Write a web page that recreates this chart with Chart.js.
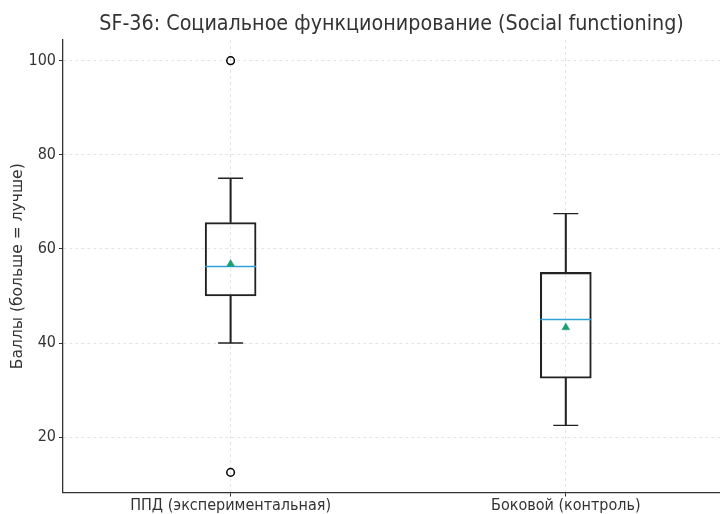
<!DOCTYPE html>
<html><head><meta charset="utf-8">
<script src="https://cdn.jsdelivr.net/npm/chart.js@4/dist/chart.umd.min.js"></script>
<style>html,body{margin:0;padding:0;background:#fff}#wrap{width:720px;height:514px}</style>
</head><body><div id="wrap"><canvas id="c" width="720" height="514"></canvas></div>
<script>
const categories = ["ППД (экспериментальная)", "Боковой (контроль)"];
const positions = [1, 2];
const q1 = [50, 32.5];
const q3 = [65.6, 55];
const medians = [56.25, 45];
const means = [56.8, 43.3];
const whiskerLow = [40, 22.5];
const whiskerHigh = [75, 67.5];
const outliers = [[100, 12.5], []];
const yTicks = [20, 40, 60, 80, 100];

const ink = '#222';
const boxes = positions.map((p, i) => ({x: p, y: [q1[i], q3[i]]}));
const upper = positions.map((p, i) => ({x: p, y: [q3[i], whiskerHigh[i]]}));
const lower = positions.map((p, i) => ({x: p, y: [whiskerLow[i], q1[i]]}));
const caps = positions.flatMap((p, i) => [{x: p, y: whiskerLow[i]}, {x: p, y: whiskerHigh[i]}]);
const med = positions.map((p, i) => ({x: p, y: medians[i]}));
const mn = positions.map((p, i) => ({x: p, y: means[i]}));
const outs = positions.flatMap((p, i) => outliers[i].map(v => ({x: p, y: v})));

new Chart(document.getElementById('c'), {
  type: 'bar',
  data: {
    datasets: [
      {type: 'bar', data: upper, grouped: false, barThickness: 1.4, backgroundColor: ink, borderWidth: 0, order: 5},
      {type: 'bar', data: lower, grouped: false, barThickness: 1.4, backgroundColor: ink, borderWidth: 0, order: 5},
      {type: 'bar', data: boxes, grouped: false, barThickness: 51, backgroundColor: 'rgba(255,255,255,0)', borderColor: ink, borderWidth: 1.4, borderSkipped: false, order: 4},
      {type: 'line', data: caps, showLine: false, pointStyle: 'line', pointRadius: 12.5, borderColor: ink, pointBorderWidth: 1.4, order: 3},
      {type: 'line', data: med, showLine: false, pointStyle: 'line', pointRadius: 25.5, borderColor: '#2ea3d6', pointBorderWidth: 1.4, order: 2},
      {type: 'line', data: mn, showLine: false, pointStyle: 'triangle', pointRadius: 4.5, backgroundColor: '#1a9e74', borderColor: '#1a9e74', pointBorderWidth: 0.5, order: 1},
      {type: 'line', data: outs, showLine: false, pointStyle: 'circle', pointRadius: 3.8, backgroundColor: 'rgba(255,255,255,0)', borderColor: '#000', pointBorderWidth: 1.5, order: 1}
    ]
  },
  options: {
    responsive: false,
    animation: false,
    events: [],
    layout: {autoPadding: false, padding: {left: 0, right: 0, top: 0, bottom: 0}},
    plugins: {
      legend: {display: false},
      tooltip: {enabled: false},
      title: {
        display: true, fullSize: false,
        text: 'SF-36: Социальное функционирование (Social functioning)',
        color: '#333',
        font: {family: 'DejaVu Sans Condensed', size: 21.3, weight: 'normal', lineHeight: 1.2},
        padding: {top: 12, bottom: 2.4}
      }
    },
    scales: {
      x: {
        type: 'linear', min: 0.5, max: 2.46, offset: false,
        afterBuildTicks: a => { a.ticks = positions.map(v => ({value: v})); },
        afterFit: a => { a.height = 21.5; a.paddingLeft = 0; a.paddingRight = 0; },
        ticks: {callback: v => categories[positions.indexOf(v)], color: '#333', padding: 0, maxRotation: 0, autoSkip: false,
          font: {family: 'DejaVu Sans Condensed', size: 16}},
        grid: {offset: false, color: '#dcdcdc', lineWidth: 0.8, drawTicks: true, tickLength: 4, tickColor: '#333', tickBorderDash: [], tickWidth: 1},
        border: {display: true, color: '#333', width: 1.3, dash: [3, 3]}
      },
      y: {
        min: 8.23, max: 104.4,
        afterBuildTicks: a => { a.ticks = yTicks.map(v => ({value: v})); },
        afterFit: a => { a.width = 63; },
        ticks: {color: '#333', padding: 3, font: {family: 'DejaVu Sans Condensed', size: 16}},
        title: {display: true, text: 'Баллы (больше = лучше)', color: '#333', padding: {top: 9, bottom: 6},
          font: {family: 'DejaVu Sans', size: 15.5}},
        grid: {color: '#dcdcdc', lineWidth: 0.8, drawTicks: true, tickLength: 4, tickColor: '#333', tickBorderDash: [], tickWidth: 1},
        border: {display: true, color: '#333', width: 1.3, dash: [3, 3]}
      }
    }
  }
});
</script></body></html>
